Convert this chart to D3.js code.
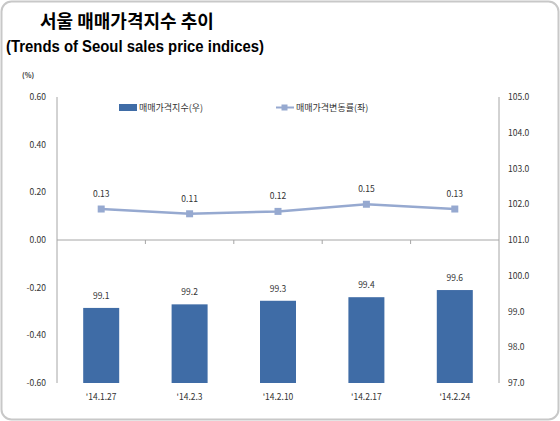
<!DOCTYPE html><html><head><meta charset="utf-8"><script src="https://cdn.jsdelivr.net/npm/d3@7"></script>
<style>body{margin:0;background:#fff}svg{font-family:"Noto Sans CJK KR","Noto Sans",sans-serif}</style></head><body><svg id="c" width="560" height="421"></svg><script>
const categories=["'14.1.27","'14.2.3","'14.2.10","'14.2.17","'14.2.24"];
const indexValues=[99.1,99.2,99.3,99.4,99.6];
const rateValues=[0.13,0.11,0.12,0.15,0.13];
const leftTicks=[0.6,0.4,0.2,0,-0.2,-0.4,-0.6];
const rightTicks=[105,104,103,102,101,100,99,98,97];
const svg=d3.select("#c");
svg.append("rect").attr("x",1.5).attr("y",1.5).attr("width",557).attr("height",418).attr("rx",10).attr("fill","#fff").attr("stroke","#c8c8c8").attr("stroke-width",2);
svg.append("text").attr("x",40).attr("y",28).attr("font-size",18).attr("font-weight","bold").text("서울 매매가격지수 추이");
svg.append("text").attr("x",6).attr("y",52).attr("font-size",16).attr("font-weight","bold").attr("font-family","Liberation Sans Narrow, Arial, sans-serif").attr("textLength",258).attr("lengthAdjust","spacingAndGlyphs").text("(Trends of Seoul sales price indices)");
const L=57,R=499,T=97,B=383;
const x0=d3.scaleBand().domain(categories).range([L,R]);
const bw=36;
const yl=d3.scaleLinear().domain([-0.6,0.6]).range([B,T]);
const yr=d3.scaleLinear().domain([97,105]).range([B,T]);
const g=svg.append("g").attr("font-size",8.5).attr("fill","#333");
g.append("text").attr("x",22).attr("y",78).attr("font-size",7).attr("font-weight","bold").text("(%)");
svg.append("line").attr("x1",L).attr("x2",L).attr("y1",T).attr("y2",B).attr("stroke","#a6a6a6");
svg.append("line").attr("x1",R).attr("x2",R).attr("y1",T).attr("y2",B).attr("stroke","#a6a6a6");
svg.append("line").attr("x1",L).attr("x2",R).attr("y1",yl(0)).attr("y2",yl(0)).attr("stroke","#a6a6a6");
categories.slice(1).forEach(c=>svg.append("line").attr("x1",x0(c)).attr("x2",x0(c)).attr("y1",yl(0)).attr("y2",yl(0)+4).attr("stroke","#a6a6a6"));
leftTicks.forEach(t=>g.append("text").attr("x",46).attr("y",yl(t)+3).attr("text-anchor","end").text(t.toFixed(2)));
rightTicks.forEach(t=>g.append("text").attr("x",508).attr("y",yr(t)+3).text(t.toFixed(1)));
const cx=i=>x0(categories[i])+x0.bandwidth()/2;
svg.selectAll(".bar").data(indexValues).enter().append("rect").attr("x",(d,i)=>cx(i)-bw/2).attr("width",bw).attr("y",d=>yr(d)).attr("height",d=>yr(97)-yr(d)).attr("fill","#3f6ca6");
indexValues.forEach((d,i)=>g.append("text").attr("x",cx(i)).attr("y",yr(d)-9).attr("text-anchor","middle").text(d.toFixed(1)));
categories.forEach((c,i)=>g.append("text").attr("x",cx(i)).attr("y",400).attr("text-anchor","middle").text(c));
svg.append("path").datum(rateValues).attr("d",d3.line().x((d,i)=>cx(i)).y(d=>yl(d))).attr("fill","none").attr("stroke","#96a9d0").attr("stroke-width",2.5);
rateValues.forEach((d,i)=>{svg.append("rect").attr("x",cx(i)-3.5).attr("y",yl(d)-3.5).attr("width",7).attr("height",7).attr("fill","#96a9d0");
g.append("text").attr("x",cx(i)).attr("y",yl(d)-12).attr("text-anchor","middle").text(d.toFixed(2));});
svg.append("rect").attr("x",119).attr("y",104).attr("width",18).attr("height",7).attr("fill","#3f6ca6");
g.append("text").attr("x",139).attr("y",111).attr("font-size",9).text("매매가격지수(우)");
svg.append("line").attr("x1",276).attr("x2",294).attr("y1",107.5).attr("y2",107.5).attr("stroke","#96a9d0").attr("stroke-width",2);
svg.append("rect").attr("x",281.5).attr("y",104.5).attr("width",6).attr("height",6).attr("fill","#96a9d0");
g.append("text").attr("x",296).attr("y",111).attr("font-size",9).text("매매가격변동률(좌)");
</script></body></html>
